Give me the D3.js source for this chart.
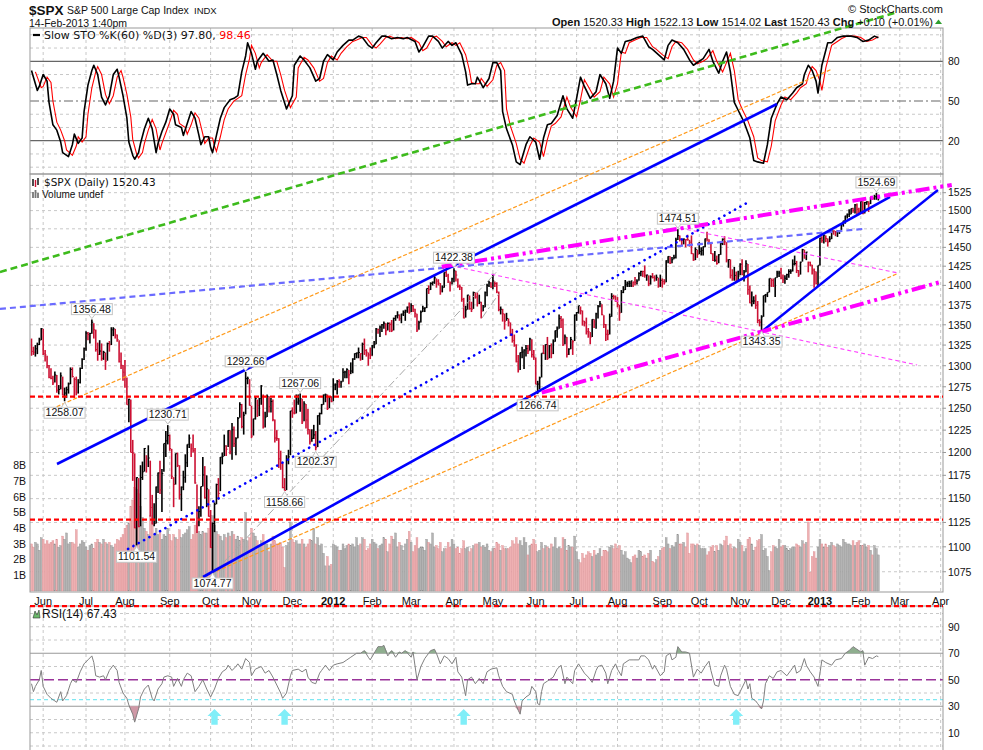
<!DOCTYPE html>
<html><head><meta charset="utf-8">
<script src="https://cdn.jsdelivr.net/npm/d3@7"></script>
<style>
body{margin:0;background:#fff}
svg{display:block}
text{font-family:"Liberation Sans",Arial,sans-serif;fill:#111}
.dv{font-family:"DejaVu Sans",Verdana,sans-serif}
</style>
</head><body>
<svg id="c" width="983" height="750"></svg>
<script>
// ---------------- DATA ----------------
const firstDay = "2011-05-23";
const holidays = ["2011-05-30","2011-07-04","2011-09-05","2011-11-24","2011-12-26","2012-01-02","2012-01-16","2012-02-20","2012-04-06","2012-05-28","2012-07-04","2012-09-03","2012-10-29","2012-10-30","2012-11-22","2012-12-25","2013-01-01","2013-01-21"];
const prevClose = 1333.27;
const closes2011 = [1317.37,1316.28,1320.47,1325.69,1331.10,1345.20,
1314.55,1312.94,1300.16,1286.17,1284.94,1279.56,1289.00,1270.98,1271.83,1287.87,1265.42,1267.64,1271.50,1278.36,1295.52,1287.14,1283.50,1268.45,1280.10,1296.67,1307.41,1320.64,
1339.67,1337.88,1339.22,1353.22,1343.80,1319.49,1313.64,1317.72,1308.87,1316.14,1305.44,1326.73,1325.84,1343.80,1345.02,1337.43,1331.94,1304.89,1300.67,1292.28,
1286.94,1254.05,1260.34,1200.07,1199.38,1119.46,1172.53,1120.76,1172.64,1178.81,1204.49,1192.76,1193.89,1140.65,1123.53,1123.82,1162.35,1177.60,1159.27,1176.80,1210.08,1212.92,1218.89,
1204.42,1173.97,1165.24,1198.62,1185.90,1154.23,1162.27,1172.87,1188.68,1209.11,1216.01,1204.09,1202.09,1166.76,1129.56,1136.43,1162.95,1175.38,1151.06,1160.40,1131.42,
1099.23,1123.95,1144.03,1164.97,1155.46,1194.89,1195.54,1207.25,1203.66,1224.58,1200.86,1225.38,1209.88,1215.39,1238.25,1254.19,1229.05,1242.00,1284.59,1285.09,1253.30,
1218.28,1237.90,1261.15,1253.23,1261.12,1275.92,1229.10,1239.70,1263.85,1251.78,1257.81,1236.91,1216.13,1215.65,1192.98,1188.04,1161.79,1158.67,1192.55,1195.19,1246.96,
1244.58,1244.28,1257.08,1258.47,1261.01,1234.35,1255.19,1236.47,1225.73,1211.82,1215.75,1219.66,1205.35,1241.30,1243.72,1254.00,1265.33,1265.43,1249.64,1263.02,1257.60];
const closes2012 = [1277.06,1277.30,1281.06,1277.81,1280.70,1292.08,1292.48,1295.50,1289.09,1293.67,1308.04,1314.50,1315.38,1316.00,1314.65,1326.06,1318.43,1316.33,1313.01,1312.41,
1324.09,1325.54,1344.90,1344.33,1347.05,1349.96,1351.95,1342.64,1351.77,1350.50,1343.23,1358.04,1361.23,1362.21,1357.66,1363.46,1365.74,1367.59,1372.18,1365.68,
1374.09,1369.63,1364.33,1343.36,1352.63,1365.91,1370.87,1371.09,1395.95,1394.28,1402.60,1404.17,1409.75,1405.52,1402.89,1392.78,1397.11,1416.51,1412.52,1405.54,1403.28,1408.47,
1419.04,1413.38,1398.96,1398.08,1382.20,1358.59,1368.71,1387.57,1370.26,1369.57,1390.78,1385.14,1376.92,1378.53,1366.94,1371.97,1390.69,1399.98,1403.36,1397.91,
1405.82,1402.31,1391.57,1369.10,1369.58,1363.72,1354.58,1357.99,1353.39,1338.35,1330.66,1324.80,1304.86,1295.22,1315.99,1316.63,1318.86,1320.68,1317.82,1332.42,1313.32,1310.33,
1278.04,1278.18,1285.50,1315.13,1314.99,1325.66,1308.93,1324.18,1314.88,1329.10,1342.84,1344.78,1357.98,1355.69,1325.51,1335.02,1313.72,1319.99,1331.85,1329.04,1362.16,
1365.51,1374.02,1367.58,1354.68,1352.46,1341.47,1341.45,1334.76,1356.78,1353.64,1363.67,1372.78,1376.51,1362.66,1350.52,1338.31,1337.89,1360.02,1385.97,1385.30,1379.32,
1375.32,1365.00,1390.99,1394.23,1401.35,1402.22,1402.80,1405.87,1404.11,1403.93,1405.53,1415.51,1418.16,1418.13,1413.17,1413.49,1402.08,1411.13,1410.44,1409.30,1410.49,1399.48,1406.58,
1404.94,1403.44,1432.12,1437.92,1429.08,1433.56,1436.56,1459.99,1465.77,1461.19,1459.32,1461.05,1460.26,1460.15,1456.89,1441.59,1433.32,1447.15,1440.67,
1444.49,1445.75,1450.99,1461.40,1460.93,1455.88,1441.48,1432.56,1432.84,1428.59,1440.13,1454.92,1460.91,1457.34,1433.19,1433.82,1413.11,1408.75,1412.97,1411.94,1412.16,
1427.59,1414.20,1417.26,1428.39,1394.53,1377.51,1379.85,1380.03,1374.53,1355.49,1353.33,1359.88,1386.89,1387.81,1391.03,1409.15,1406.29,1398.94,1409.93,1415.95,1416.18,
1409.46,1407.05,1409.28,1413.94,1418.07,1418.55,1427.84,1428.48,1419.45,1413.58,1430.36,1446.79,1435.81,1443.69,1430.15,1426.66,1419.83,1418.10,1402.43,1426.19];
const closes2013 = [1462.42,1459.37,1466.47,1461.89,1457.15,1461.02,1472.12,1472.05,1470.68,1472.34,1472.63,1480.94,1485.98,1492.56,1494.81,1494.82,1502.96,1500.18,1507.84,1501.96,1498.11,
1513.17,1495.71,1511.29,1512.12,1509.39,1517.93,1517.01,1519.43,1520.33,1520.43];

const highs2011 = [1333,1323,1325,1328,1334,1346,
1345,1319,1312,1301,1297,1288,1293,1289,1277,1292,1287,1274,1275,1280,1298,1298,1286,1287,1284,1298,1309,1322,
1342,1341,1340,1356.48,1352,1344,1328,1331,1327,1318,1316,1328,1330,1347,1347,1345,1338,1331,1316,1301,
1307,1286,1261,1260,1214,1199,1173,1172,1186,1190,1205,1197,1208,1191,1154,1145,1163,1178,1191,1182,1210,1224,1230.71,
1220,1204,1173,1199,1200,1186,1163,1180,1198,1209,1220,1210,1220,1205,1165,1142,1163,1195,1185,1175,1160,
1138,1125,1146,1166,1172,1195,1200,1220,1208,1225,1225,1233,1229,1217,1240,1257,1255,1246,1292.66,1287,1284,
1253,1238,1263,1260,1262,1277,1266,1246,1266,1264,1262,1260,1237,1225,1216,1202,1188,1172,1197,1203,1247,
1251,1260,1266,1266,1267.06,1261,1258,1255,1249,1226,1226,1231,1224,1242,1245,1255,1266,1267,1266,1264,1264];
const lows2011 = [1312,1313,1311,1314,1325,1331,
1313,1305,1297,1285,1284,1277,1280,1268,1266,1272,1265,1258.07,1262,1267,1278,1286,1262,1265,1267,1279,1296,1307,
1318,1331,1327,1339,1333,1317,1306,1313,1306,1307,1295,1306,1317,1325,1336,1333,1329,1304,1296,1282,
1274,1254,1234,1200,1169,1119,1101.54,1120,1121,1170,1179,1178,1184,1131,1123,1121,1124,1156,1155,1136,1179,1195,1209,
1202,1171,1141,1165,1184,1149,1137,1159,1167,1184,1205,1195,1200,1166,1114,1121,1131,1163,1150,1141,1131,
1099,1074.77,1115,1144,1149,1158,1187,1196,1196,1206,1198,1192,1206,1197,1216,1239,1227,1220,1243,1278,1253,
1216,1219,1237,1240,1241,1254,1227,1228,1240,1245,1245,1235,1211,1213,1183,1181,1161,1158.66,1159,1187,1197,
1239,1243,1244,1254,1246,1232,1235,1227,1220,1209,1212,1215,1202.37,1206,1231,1243,1254,1257,1248,1250,1257];
const highs2012 = [1285,1279,1283,1284,1282,1297,1294,1297,1295,1304,1309,1315,1316,1322,1315,1328,1333,1320,1316,1322,
1325,1330,1346,1345,1349,1351,1354,1352,1353,1353,1356,1359,1362,1367,1363,1364,1368,1369,1373,1378,
1377,1375,1370,1364,1355,1368,1374,1372,1396,1400,1404,1405,1414,1409,1408,1403,1400,1417,1420,1415,1405,1410,
1422.38,1419,1409,1401,1398,1384,1374,1388,1387,1379,1392,1391,1391,1388,1379,1375,1392,1402,1406,1404,
1415,1405,1404,1392,1373,1370,1364,1365,1358,1353,1345,1338,1326,1313,1316,1323,1320,1325,1325,1334,1332,1319,
1310,1282,1287,1315,1325,1326,1335,1325,1327,1332,1343,1348,1363,1361,1358,1338,1335,1321,1335,1331,1363,
1366,1374,1373,1368,1355,1359,1346,1341,1357,1357,1365,1375,1380,1376,1362,1351,1344,1364,1390,1388,1387,
1385,1375,1394,1399,1407,1405,1406,1406,1405,1411,1408,1417,1419,1419,1426,1414,1413,1413,1416,1413,1414,1410,1414,
1409,1408,1433,1438,1438,1437,1440,1463,1474.51,1466,1461,1462,1461,1467,1460,1466,1442,1450,1447,
1457,1450,1451,1462,1471,1461,1456,1442,1445,1439,1441,1456,1462,1465,1457,1434,1434,1421,1424,1418,1419,
1429,1434,1420,1433,1428,1400,1392,1386,1388,1380,1357,1362,1387,1389,1391,1409,1409,1409,1410,1419,1419,
1423,1414,1413,1415,1421,1421,1434,1439,1432,1420,1431,1448,1447,1444,1431,1431,1427,1422,1418,1426];
const lows2012 = [1258,1271,1266,1274,1274,1281,1285,1285,1278,1290,1291,1307,1309,1309,1306,1307,1313,1311,1300,1308,
1312,1321,1326,1339,1335,1341,1345,1337,1343,1341,1341,1343,1355,1358,1355,1352,1361,1355,1365,1364,
1366,1366,1359,1341,1344,1353,1366,1366,1371,1389,1394,1400,1402,1397,1400,1388,1391,1397,1411,1403,1392,1401,
1404,1405,1397,1394,1379,1358,1359,1369,1369,1366,1370,1383,1373,1376,1358,1367,1372,1386,1398,1397,
1395,1398,1390,1367,1363,1354,1344,1355,1348,1336,1328,1323,1304,1292,1295,1309,1296,1311,1314,1318,1310,1307,
1278,1266.74,1272,1286,1314,1307,1307,1309,1309,1314,1329,1334,1345,1346,1324,1326,1310,1313,1320,1313,1330,
1355,1364,1363,1349,1348,1338,1334,1326,1335,1346,1345,1358,1372,1362,1346,1330,1331,1338,1360,1382,1379,
1372,1355,1365,1390,1394,1398,1398,1398,1398,1400,1401,1406,1412,1411,1410,1406,1399,1401,1409,1405,1406,1397,1398,
1397,1401,1404,1429,1428,1429,1434,1435,1460,1458,1453,1454,1450,1459,1451,1441,1432,1433,1436,
1441,1439,1439,1450,1458,1454,1441,1432,1431,1427,1429,1440,1453,1453,1430,1423,1409,1406,1406,1403,1407,
1413,1413,1405,1417,1388,1377,1373,1376,1370,1352,1348,1343.35,1360,1378,1385,1391,1398,1398,1385,1410,1411,
1408,1403,1402,1407,1410,1415,1418,1426,1416,1411,1414,1431,1435,1433,1417,1425,1414,1397,1401,1398];
const highs2013 = [1463,1465,1467,1466,1462,1465,1472,1473,1472,1473,1473,1482,1486,1493,1496,1502,1503,1504,1509,1510,1504,
1515,1513,1512,1513,1513,1519,1519,1522,1524.69,1522.13];
const lows2013 = [1426,1456,1455,1457,1451,1457,1461,1467,1465,1464,1468,1473,1478,1482,1489,1491,1495,1497,1496,1495,1496,
1498,1495,1496,1508,1498,1509,1515,1515,1515,1514.02];

// volume, tenths of a billion
const vol2011 = [30,28,31,30,26,34,
33,30,32,30,31,32,30,33,28,29,35,33,37,30,31,31,30,39,28,30,32,31,
28,26,29,30,27,31,33,31,30,33,31,30,31,29,28,30,33,32,34,36,
40,42,43,54,58,66,65,62,54,47,40,38,36,48,44,36,40,36,38,33,36,35,40,
36,32,36,34,33,39,34,36,37,39,41,33,36,42,44,38,36,38,37,37,40,
44,48,42,38,36,35,32,36,34,37,35,38,36,33,35,32,34,33,50,32,34,
40,37,35,32,28,32,36,30,30,25,30,35,32,30,30,31,28,15,29,31,44,
33,31,32,30,30,33,30,28,30,33,32,40,30,34,29,30,24,16,22,16,17];
const vol2012 = [30,29,28,26,26,30,27,29,30,29,30,28,34,29,30,34,33,26,27,30,
33,31,30,27,29,30,34,33,25,30,35,33,37,28,31,29,26,30,33,38,
31,25,29,34,27,28,28,26,33,31,30,37,28,29,27,31,25,27,27,31,28,33,
30,27,28,24,27,32,27,28,25,27,29,30,30,31,28,29,28,30,26,25,
27,27,31,30,26,29,27,27,27,28,32,30,34,30,32,29,34,31,23,29,30,33,
30,25,26,31,27,29,28,27,30,28,34,27,28,27,34,33,26,29,28,28,35,
25,20,18,24,21,23,25,24,22,26,23,24,27,22,26,26,25,28,29,27,30,
27,29,26,23,25,21,20,18,22,23,21,26,25,22,23,21,24,26,19,18,20,22,26,
27,28,34,30,27,29,28,31,36,30,30,31,28,37,24,30,30,29,30,
29,27,27,27,23,25,28,29,25,29,26,30,29,32,35,29,30,27,28,27,33,
31,29,25,27,33,34,30,26,28,32,33,36,26,27,22,13,25,29,28,27,33,
28,29,29,27,26,27,28,28,30,29,28,32,30,31,44,12,22,25,21,28];
const vol2013 = [33,30,28,30,28,29,31,29,28,30,29,28,33,31,30,30,29,32,29,31,32,
29,29,30,28,29,26,23,29,27,23];

// Slow STO %K(60) and %D(3): [trading-day index, value]
const stoK = [[0,73],[1,68],[3,58],[4,61],[6,70],[8,65],[9,49],[11,32],[13,28],[15,19],[16,11],[19,8],[21,17],[22,25],[24,18],[26,22],[27,42],[29,62],[31,73],[32,77],[34,70],[36,53],[38,47],[40,54],[42,70],[44,74],[45,68],[47,54],[49,37],[50,19],[52,9],[53,6],[55,11],[56,18],[58,29],[60,37],[62,29],[64,11],[65,18],[67,27],[69,34],[71,44],[73,40],[74,32],[77,30],[78,24],[80,33],[82,42],[84,37],[86,24],[87,17],[89,23],[91,23],[92,15],[93,11],[95,24],[97,37],[99,45],[102,51],[104,52],[106,54],[108,72],[110,84],[111,94],[113,86],[115,74],[116,80],[119,86],[122,80],[124,81],[126,70],[128,58],[131,44],[134,54],[135,77],[138,84],[140,81],[143,75],[146,65],[148,67],[150,80],[152,85],[155,81],[157,87],[160,92],[163,96],[165,96],[168,99],[170,98],[173,92],[175,90],[177,94],[180,99],[182,99],[185,97],[188,98],[191,97],[193,98],[197,95],[199,87],[201,91],[204,99],[206,99],[209,95],[211,90],[214,95],[216,92],[218,94],[221,85],[223,72],[224,62],[226,63],[228,63],[229,68],[231,63],[232,60],[235,67],[237,79],[239,79],[241,73],[242,42],[244,29],[247,17],[249,4],[251,2],[254,17],[256,23],[259,19],[261,6],[263,22],[265,32],[267,33],[270,39],[273,54],[275,44],[278,37],[280,52],[282,68],[284,61],[287,52],[290,57],[292,70],[295,63],[297,52],[299,65],[301,90],[303,86],[305,95],[308,96],[311,98],[314,99],[317,91],[319,89],[322,85],[325,81],[327,92],[329,96],[332,94],[335,89],[338,81],[340,77],[343,80],[345,82],[348,89],[350,80],[353,71],[355,80],[357,87],[359,72],[361,49],[363,43],[366,34],[367,30],[369,22],[371,5],[373,4],[376,3],[378,17],[380,37],[383,48],[385,53],[388,51],[391,56],[393,60],[396,63],[397,70],[399,77],[401,73],[403,65],[404,56],[406,77],[409,94],[411,94],[414,98],[417,99],[421,99],[424,98],[427,95],[430,96],[433,99],[435,97.80]];
const stoD = [[2,72],[3,68],[5,60],[6,61],[8,68],[10,64],[11,50],[13,34],[15,28],[17,20],[18,13],[21,9],[23,16],[24,23],[26,19],[28,23],[29,40],[31,60],[33,72],[34,76],[36,70],[38,55],[40,48],[42,54],[44,68],[46,73],[47,68],[49,55],[51,38],[52,21],[54,10],[55,7],[57,11],[58,18],[60,28],[62,36],[64,29],[66,13],[67,18],[69,26],[71,34],[73,43],[75,40],[76,33],[79,30],[80,25],[82,32],[84,41],[86,37],[88,25],[89,18],[91,22],[93,22],[94,16],[95,12],[97,23],[99,36],[101,44],[104,50],[106,52],[108,54],[110,70],[112,82],[113,92],[115,86],[117,75],[118,79],[121,85],[124,80],[126,80],[128,70],[130,58],[133,45],[136,53],[137,75],[140,83],[142,81],[145,75],[148,65],[150,67],[152,79],[154,84],[157,81],[159,86],[162,91],[165,95],[167,96],[170,98],[172,98],[175,92],[177,90],[179,93],[182,98],[184,99],[187,97],[190,98],[193,97],[195,98],[199,94],[201,88],[203,90],[206,98],[208,99],[211,95],[213,91],[216,94],[218,92],[220,94],[223,85],[225,73],[226,64],[228,63],[230,63],[231,67],[233,63],[234,61],[237,66],[239,77],[241,79],[243,73],[244,44],[246,31],[249,18],[251,6],[253,3],[256,16],[258,22],[261,19],[263,8],[265,21],[267,31],[269,33],[272,38],[275,53],[277,45],[280,38],[282,51],[284,66],[286,61],[289,53],[292,57],[294,68],[297,63],[299,53],[301,63],[303,87],[305,86],[307,94],[310,96],[313,98],[316,98],[319,91],[321,89],[324,85],[327,82],[329,91],[331,95],[334,94],[337,89],[340,81],[342,78],[345,80],[347,82],[350,88],[352,80],[355,72],[357,79],[359,86],[361,73],[363,51],[365,44],[368,35],[369,31],[371,23],[373,7],[375,5],[378,4],[380,16],[382,35],[385,47],[387,53],[390,51],[393,56],[395,60],[398,63],[399,69],[401,76],[403,73],[405,65],[406,58],[408,75],[411,92],[413,94],[416,97],[419,99],[423,99],[426,98],[429,95],[432,96],[435,98.46]];
// RSI(14): [trading-day index, value]
const rsi = [[0,47],[1,41],[2,45],[4,50],[5,57],[6,45],[8,39],[10,36],[12,34],[13,33],[15,41],[16,34],[18,38],[20,47],[21,50],[23,48],[25,56],[27,62],[29,65],[31,68],[32,63],[33,53],[35,52],[37,53],[38,50],[40,57],[42,61],[44,57],[45,48],[47,40],[49,36],[50,31],[52,24],[53,18],[55,28],[56,37],[58,43],[60,46],[62,36],[63,34],[65,43],[67,47],[68,52],[70,53],[72,52],[73,45],[75,51],[77,45],[78,50],[80,55],[82,53],[84,41],[86,45],[88,50],[90,43],[92,37],[94,43],[96,51],[98,56],[100,58],[101,61],[103,57],[105,60],[106,62],[108,58],[110,66],[112,63],[113,53],[115,58],[118,60],[120,55],[122,57],[124,52],[126,46],[128,40],[129,36],[131,40],[133,53],[134,57],[137,58],[139,56],[141,58],[142,52],[144,48],[146,47],[148,55],[149,57],[151,61],[153,57],[155,61],[157,62],[160,63],[162,65],[164,67],[167,70],[169,70],[171,72],[173,67],[174,65],[176,70],[178,75],[180,75],[181,76],[183,68],[185,72],[187,67],[189,71],[190,70],[192,72],[195,67],[196,71],[198,50],[200,60],[202,66],[204,70],[205,72],[207,73],[208,70],[210,62],[212,68],[214,66],[216,62],[218,67],[219,56],[221,52],[223,38],[224,50],[226,52],[228,47],[230,51],[232,47],[234,56],[236,58],[239,59],[240,53],[242,45],[244,41],[247,39],[248,34],[250,27],[251,24],[252,34],[254,37],[256,39],[257,45],[259,41],[260,32],[261,31],[262,41],[263,47],[265,49],[266,50],[268,52],[270,58],[272,61],[274,47],[275,52],[278,47],[279,57],[281,62],[284,55],[286,52],[288,48],[290,57],[291,60],[293,61],[295,55],[296,47],[298,57],[300,62],[301,58],[303,53],[304,62],[307,65],[309,65],[312,65],[313,68],[315,68],[317,65],[319,58],[320,61],[323,53],[325,56],[326,68],[328,70],[329,65],[331,67],[332,75],[334,71],[336,71],[338,70],[340,52],[342,58],[344,55],[346,60],[348,64],[349,57],[351,46],[353,45],[354,53],[356,61],[357,58],[359,45],[361,39],[363,38],[364,41],[367,50],[368,43],[369,47],[370,36],[372,34],[373,32],[375,28],[376,34],[377,47],[379,53],[381,51],[383,56],[385,57],[388,53],[390,57],[392,61],[393,55],[395,57],[397,66],[398,61],[400,56],[402,52],[404,45],[405,55],[406,65],[408,63],[411,61],[413,65],[416,66],[418,70],[420,72],[422,75],[424,73],[426,71],[427,72],[428,61],[430,67],[432,66],[434,68],[435,67.43]];

// quote header
const quoteLabels = ["Open","High","Low","Last","Chg"];
const quoteValues = ["1520.33","1522.13","1514.02","1520.43","+0.10 (+0.01%)"];
// price callouts: [day index, price, side]
const callouts = [[17,1258.07,"b"],[31,1356.48,"a"],[54,1101.54,"b"],[70,1230.71,"a"],[93,1074.77,"b"],[110,1292.66,"a"],[130,1158.66,"b"],[138,1267.06,"a"],[146,1202.37,"b"],[217,1422.38,"a"],[260,1266.74,"b"],[332,1474.51,"a"],[375,1343.35,"b"],[434,1524.69,"a"]];
// trend lines: [[day index, price],[day index, price]]
const greenLine   = [[-16.2,1417.4],[445.1,1801.6]];
const blueDashed  = [[-16.2,1369.9],[427.1,1474.8]];
const blueUpper   = [[13.1,1187.3],[382.9,1655.0]];
const blueLower   = [[88.1,1069.8],[441.0,1519.0]];
const blueSteep   = [[374.2,1339.9],[465.6,1528.8]];
const blueDotted  = [[49.6,1097.8],[367.5,1510.6]];
const magUpper    = [[210.7,1424.4],[472.7,1535.9]];
const magLower    = [[262.1,1268.1],[467.5,1404.8]];
const magThinA    = [[218.6,1424.0],[454.9,1300.9]];
const magThinB    = [[333.1,1476.1],[445.1,1416.1]];
const orangeUpper = [[12.9,1251.8],[411.0,1708.9]];
const orangeLower = [[86.6,1068.5],[445.2,1415.7]];
const greyA       = [[93.4,1073.4],[239.8,1420.0]];
const greyB       = [[231.4,1358.5],[240.7,1391.5]];
const redLevels   = [1263.5,1128.0,1041.5];
// RSI arrows
const arrowDays = [94,130,222,362];
const priceTicks = d3.range(1075,1526,25);
const stoTicks = [20,50,80];
const rsiTicks = [10,30,50,70,90];
const volTicks = [1,2,3,4,5,6,7,8];

// ---------------- BUILD ----------------
const closes = closes2011.concat(closes2012, closes2013);
const highs = highs2011.concat(highs2012, highs2013);
const lows = lows2011.concat(lows2012, lows2013);
const vols = vol2011.concat(vol2012, vol2013);
const nData = closes.length;

// trading calendar (future area: plain weekdays)
const hol = new Set(holidays);
const days = [];
{
  let d = new Date(firstDay + "T00:00:00Z");
  const end = new Date("2013-05-01T00:00:00Z");
  while (d < end) {
    const wd = d.getUTCDay(), s = d.toISOString().slice(0,10);
    if (wd !== 0 && wd !== 6 && !hol.has(s)) days.push(new Date(d));
    d.setUTCDate(d.getUTCDate()+1);
  }
}
const bars = closes.map((c,i)=>({i, c, h:highs[i], l:lows[i], v:vols[i]/10, up: c >= (i? closes[i-1] : prevClose)}));

const L = 30, R = 943;
const x = d3.scaleLinear().domain([0,100]).range([31.5, 31.5+194.68]);
const yP = d3.scaleLog().domain([1055.1,1551.5]).range([592,174]);
const yV = d3.scaleLinear().domain([0,8]).range([591,465.5]);
const yS = d3.scaleLinear().domain([0,100]).range([167.2,34.8]);
const yR = d3.scaleLinear().domain([0,100]).range([746,613.5]);

const svg = d3.select("#c");
svg.append("rect").attr("width",983).attr("height",750).attr("fill","#fff");
const defs = svg.append("defs");
function clip(id,x0,y0,w,h){defs.append("clipPath").attr("id",id).append("rect").attr("x",x0).attr("y",y0).attr("width",w).attr("height",h);}
clip("cS",L,28,R-L,146); clip("cP",L,174,R-L,418); clip("cR",L,606,R-L,144);

const panels = [{id:"cS",y0:28,y1:174},{id:"cP",y0:174,y1:592},{id:"cR",y0:606,y1:750}];

// month ticks
const months = [];
for (let k=1;k<days.length;k++){
  if (days[k].getUTCMonth() !== days[k-1].getUTCMonth()) months.push({k, d:days[k]});
}
const mNames = ["Jan","Feb","Mar","Apr","May","Jun","Jul","Aug","Sep","Oct","Nov","Dec"];

// grids
panels.forEach(p=>{
  const g = svg.append("g").attr("clip-path",`url(#${p.id})`);
  g.selectAll("line.v").data(months).join("line")
    .attr("x1",d=>x(d.k)).attr("x2",d=>x(d.k)).attr("y1",p.y0).attr("y2",p.y1)
    .attr("stroke","#c8c8c8").attr("stroke-dasharray","3,3");
});
const gridH = (vals, sc) => svg.append("g").selectAll("line").data(vals).join("line")
  .attr("x1",L).attr("x2",R).attr("y1",d=>sc(d)).attr("y2",d=>sc(d))
  .attr("stroke","#c8c8c8").attr("stroke-dasharray","3,3");
gridH([0,10,30,40,60,70,90,100], yS);
gridH(priceTicks, yP);
gridH([0,10,20,40,60,80,90,100], yR);

// STO reference lines
svg.append("g").selectAll("line").data(stoTicks).join("line")
  .attr("x1",L).attr("x2",R).attr("y1",d=>yS(d)).attr("y2",d=>yS(d))
  .attr("stroke","#666").attr("stroke-width",1.2)
  .attr("stroke-dasharray",d=>d===50?"9,3,2,3":null);
// RSI reference lines
svg.append("g").selectAll("line").data([30,70]).join("line")
  .attr("x1",L).attr("x2",R).attr("y1",d=>yR(d)).attr("y2",d=>yR(d))
  .attr("stroke","#999").attr("stroke-width",1.2);
svg.append("line").attr("x1",L).attr("x2",R).attr("y1",yR(35)).attr("y2",yR(35))
  .attr("stroke","#7fe8f2").attr("stroke-width",1.3).attr("stroke-dasharray","4,3");
svg.append("line").attr("x1",L).attr("x2",R).attr("y1",yR(50)).attr("y2",yR(50))
  .attr("stroke","#993399").attr("stroke-width",1.6).attr("stroke-dasharray","10,4");

// volume
const gV = svg.append("g").attr("clip-path","url(#cP)");
gV.selectAll("rect").data(bars).join("rect")
  .attr("x",d=>x(d.i)-0.95).attr("width",1.9)
  .attr("y",d=>yV(d.v)).attr("height",d=>yV(0)-yV(d.v))
  .attr("fill",d=>d.up?"#b4b4b4":"#eeb0b2")
  .attr("stroke",d=>d.up?"#8e8e8e":"#d98a8f").attr("stroke-width",0.35);

// price bars
const gB = svg.append("g").attr("clip-path","url(#cP)");
gB.selectAll("line.b").data(bars).join("line").attr("class","b")
  .attr("x1",d=>x(d.i)).attr("x2",d=>x(d.i)).attr("y1",d=>yP(d.h)).attr("y2",d=>yP(d.l))
  .attr("stroke",d=>d.up?"#000":"#cc1133").attr("stroke-width",1.6);
gB.selectAll("line.t").data(bars).join("line").attr("class","t")
  .attr("x1",d=>x(d.i)).attr("x2",d=>x(d.i)+1.4).attr("y1",d=>yP(d.c)).attr("y2",d=>yP(d.c))
  .attr("stroke",d=>d.up?"#000":"#cc1133").attr("stroke-width",1);

// STO lines
const lnS = d3.line().x(d=>x(d[0])).y(d=>yS(d[1]));
const gS = svg.append("g").attr("clip-path","url(#cS)");
gS.append("path").attr("d",lnS(stoD)).attr("fill","none").attr("stroke","#ff0000").attr("stroke-width",1.1);
gS.append("path").attr("d",lnS(stoK)).attr("fill","none").attr("stroke","#000").attr("stroke-width",1.6).attr("stroke-linejoin","round");

// RSI
const gR = svg.append("g").attr("clip-path","url(#cR)");
gR.append("path").attr("d",d3.area().x(d=>x(d[0])).y0(yR(70)).y1(d=>yR(Math.max(70,d[1])))(rsi))
  .attr("fill","#8fae8f");
gR.append("path").attr("d",d3.area().x(d=>x(d[0])).y0(yR(30)).y1(d=>yR(Math.min(30,d[1])))(rsi))
  .attr("fill","#cf98a6");
gR.append("path").attr("d",d3.line().x(d=>x(d[0])).y(d=>yR(d[1]))(rsi))
  .attr("fill","none").attr("stroke","#808080").attr("stroke-width",1);
// arrows
arrowDays.forEach(k=>{
  const cx = x(k), yt = yR(28), yb = yR(16), hy = yt + 7;
  svg.append("path").attr("d",`M${cx},${yt} L${cx+7},${hy} L${cx+3.2},${hy} L${cx+3.2},${yb} L${cx-3.2},${yb} L${cx-3.2},${hy} L${cx-7},${hy} Z`)
    .attr("fill","#80eef8");
});

// panel borders
svg.append("rect").attr("x",L).attr("y",28).attr("width",R-L).attr("height",146).attr("fill","none").attr("stroke","#999");
svg.append("rect").attr("x",L).attr("y",174).attr("width",R-L).attr("height",418).attr("fill","none").attr("stroke","#999");
svg.append("path").attr("d",`M${L},750 V606 H${R} V750`).attr("fill","none").attr("stroke","#999");

// trend lines
const lnP = d3.line().x(d=>x(d[0])).y(d=>yP(d[1]));
function tl(data, color, w, dash, cap){
  svg.append("path").attr("d",lnP(data)).attr("fill","none").attr("stroke",color)
    .attr("stroke-width",w).attr("stroke-dasharray",dash).attr("stroke-linecap",cap||"butt");
}
tl(orangeUpper,"#ff9a1a",1.2,"4,2");
tl(orangeLower,"#ff9a1a",1.2,"4,2");
tl(greyA,"#a8a8a8",1,"8,3,2,3");
tl(greyB,"#a8a8a8",1,"8,3,2,3");
tl(magThinA,"#ff44ff",1.1,"4,3");
tl(magThinB,"#ff44ff",1.1,"4,3");
tl(blueDashed,"#6b6bff",2.2,"6,4");
tl(greenLine,"#3dbb1c",2.6,"7,4");
tl(blueDotted,"#0000ff",2.6,"0.1,6","round");
tl(blueUpper,"#0000ff",2.6,null);
tl(blueLower,"#0000ff",2.6,null);
tl(blueSteep,"#0000ff",2.4,null);
tl(magUpper,"#ff00ff",4,"14,4,3,4,3,4");
tl(magLower,"#ff00ff",4,"14,4,3,4,3,4");
svg.append("g").selectAll("line").data(redLevels).join("line")
  .attr("x1",L).attr("x2",R).attr("y1",d=>yP(d)).attr("y2",d=>yP(d))
  .attr("stroke","#ff0000").attr("stroke-width",2.2).attr("stroke-dasharray","5,3");

// callouts
callouts.forEach(([k,p,side])=>{
  const cx = x(k), py = yP(p);
  const cy = side==="a" ? py-10.5 : py+11.5;
  const g = svg.append("g");
  const t = g.append("text").attr("x",cx).attr("y",cy+3.6).attr("text-anchor","middle")
    .attr("font-size",10.5).attr("fill","#222").text(p.toFixed(2));
  const w = t.node().getComputedTextLength()+3;
  g.insert("rect","text").attr("x",cx-w/2).attr("y",cy-5.5).attr("width",w).attr("height",11)
    .attr("fill","#fff").attr("stroke","#c4c4c4");
  const ey = side==="a" ? cy+5.5 : cy-5.5;
  g.append("path").attr("d",`M${cx-3},${ey} L${cx},${side==="a"?py-1:py+1} L${cx+3},${ey}`)
    .attr("fill","#fff").attr("stroke","#c4c4c4");
});

// axes labels
const ax = svg.append("g");
ax.selectAll("text.p").data(priceTicks).join("text").attr("class","p")
  .attr("x",948).attr("y",d=>yP(d)+3.8).attr("font-size",10.5).text(d=>d);
ax.selectAll("line.p").data(priceTicks).join("line").attr("class","p")
  .attr("x1",R).attr("x2",R+3).attr("y1",d=>yP(d)).attr("y2",d=>yP(d)).attr("stroke","#999");
ax.selectAll("text.s").data(stoTicks).join("text").attr("class","s")
  .attr("x",948).attr("y",d=>yS(d)+3.8).attr("font-size",10.5).text(d=>d);
ax.selectAll("text.r").data(rsiTicks).join("text").attr("class","r")
  .attr("x",948).attr("y",d=>yR(d)+3.8).attr("font-size",10.5).text(d=>d);
ax.selectAll("text.v").data(volTicks).join("text").attr("class","v")
  .attr("x",26).attr("y",d=>yV(d)+3.8).attr("text-anchor","end").attr("font-size",10.5).text(d=>d+"B");
ax.selectAll("text.m").data(months).join("text").attr("class","m")
  .attr("x",d=>x(d.k)).attr("y",604.5).attr("text-anchor","middle").attr("font-size",11)
  .attr("font-weight",d=>d.d.getUTCMonth()===0?"bold":"normal")
  .text(d=>d.d.getUTCMonth()===0? d.d.getUTCFullYear() : mNames[d.d.getUTCMonth()]);

// header
svg.append("text").attr("x",29).attr("y",15).attr("font-size",13.5).attr("font-weight","bold").text("$SPX");
svg.append("text").attr("x",67).attr("y",14).attr("font-size",10.5).text("S&P 500 Large Cap Index");
svg.append("text").attr("x",194).attr("y",14).attr("font-size",9.5).text("INDX");
svg.append("text").attr("x",29).attr("y",26.5).attr("font-size",10.5).text("14-Feb-2013 1:40pm");
svg.append("text").attr("x",943).attr("y",13).attr("text-anchor","end").attr("font-size",11).attr("fill","#555").text("\u00A9 StockCharts.com");
const q = svg.append("text").attr("x",933).attr("y",26).attr("text-anchor","end").attr("font-size",11);
quoteLabels.forEach((lb,j)=>{
  q.append("tspan").attr("font-weight","bold").text((j?"  ":"")+lb+" ");
  q.append("tspan").text(quoteValues[j]);
});
svg.append("path").attr("d","M935,24 L938.5,19.5 L942,24 Z").attr("fill","#2e9e2e");

// legends
const fmt = d3.format(".2f");
svg.append("line").attr("x1",33).attr("x2",40).attr("y1",35).attr("y2",35).attr("stroke","#000").attr("stroke-width",2.2);
const ls = svg.append("text").attr("class","dv").attr("x",44).attr("y",38.8).attr("font-size",11);
ls.append("tspan").text(`Slow STO %K(60) %D(3) ${fmt(stoK[stoK.length-1][1])}, `);
ls.append("tspan").attr("fill","#ff0000").text(fmt(stoD[stoD.length-1][1]));

// price legend icon
const ic = svg.append("g");
[[33,179,186,"#000"],[35.5,180,187,"#cc1133"],[38,178,185,"#000"]].forEach(([xx,a,b,c])=>ic.append("line").attr("x1",xx).attr("x2",xx).attr("y1",a).attr("y2",b).attr("stroke",c).attr("stroke-width",1.4));
svg.append("text").attr("class","dv").attr("x",44).attr("y",185.8).attr("font-size",10.5).text(`$SPX (Daily) ${fmt(closes[nData-1])}`);
[[33,192],[35.5,190],[38,193]].forEach(([xx,t])=>svg.append("rect").attr("x",xx-0.9).attr("y",t).attr("width",1.8).attr("height",198-t).attr("fill","#777"));
svg.append("text").attr("x",42).attr("y",198).attr("font-size",10).text("Volume undef");

// RSI legend
svg.append("path").attr("d","M33,618 L35,611 L37,615 L39,610 L40,618 Z").attr("fill","#6ab86a").attr("stroke","#333").attr("stroke-width",0.6);
svg.append("text").attr("x",42).attr("y",618).attr("font-size",12).text(`RSI(14) ${fmt(rsi[rsi.length-1][1])}`);
</script>
</body></html>
